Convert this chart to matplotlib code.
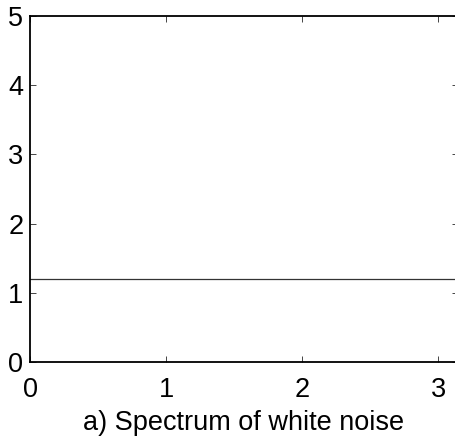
import numpy as np
import matplotlib
matplotlib.use("Agg")
import matplotlib.pyplot as plt

plt.rcParams['font.family'] = ['Liberation Sans', 'DejaVu Sans']

# Data
freq = [0.0, np.pi]          # frequency range (0 .. pi)
spectrum = [1.2, 1.2]        # flat white-noise spectrum level
xticks = [0, 1, 2, 3]
yticks = [0, 1, 2, 3, 4, 5]
xlabel = "a) Spectrum of white noise"

fig = plt.figure(figsize=(4.56, 4.45), dpi=100)
ax = fig.add_axes([30.3 / 456, (445 - 362) / 445, (457.6 - 30.3) / 456, (362 - 16) / 445])

ax.plot(freq, spectrum, color='#333333', linewidth=0.9)

ax.set_xlim(0, np.pi)
ax.set_ylim(0, 5)
ax.set_xticks(xticks)
ax.set_yticks(yticks)
ax.tick_params(direction='in', length=4, width=0.7, color='#444444',
               top=True, right=True, labelsize=19.5)
ax.tick_params(axis='x', pad=11)
ax.tick_params(axis='y', pad=5)
for s in ax.spines.values():
    s.set_linewidth(1.3)
    s.set_color('black')

ax.set_xlabel(xlabel, fontsize=19.5, labelpad=5)

fig.savefig("out.png", dpi=100)
